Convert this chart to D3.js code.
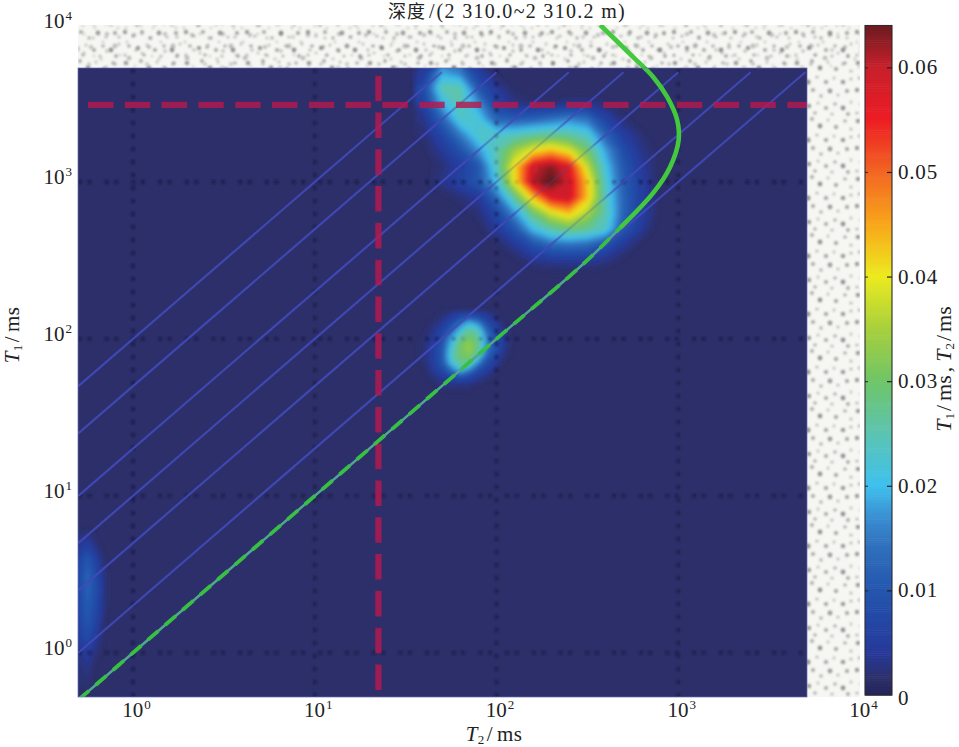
<!DOCTYPE html>
<html><head><meta charset="utf-8">
<script src="https://cdnjs.cloudflare.com/ajax/libs/d3/7.8.5/d3.min.js"></script>
<style>
html,body{margin:0;padding:0;background:#fff;overflow:hidden}
svg{display:block}
text{font-family:"Liberation Serif","Times New Roman",serif;fill:#222}
</style></head><body>
<svg id="c" width="959" height="747"></svg>
<script>
// ---- data ----
const decades = [1, 10, 100, 1000, 10000];
const colorTicks = [0, 0.01, 0.02, 0.03, 0.04, 0.05, 0.06];
const ratioLines = [1, 2, 5, 10, 20, 50, 100];
const t2Start = 0.5, t1End = 5000, t2Cutoff = 22.4, t1Cutoff = 3100;
const greenDiagonal = [[0.5,0.5],[1,1],[10,10],[100,100],[300,300],[479,510]];
const greenBend = [[479,510],[728,851],[902,1246],[1005,1852],[986,2483],[869,3480],[728,4665],[565,6250],[372,10000]];
const colorStops = [[0,"#25245a"],[0.0015,"#2c2f69"],[0.004,"#27399a"],[0.007,"#2347a5"],[0.01,"#2456ae"],[0.014,"#2f6fbc"],[0.017,"#3a8fd2"],[0.02,"#3fc1ee"],[0.025,"#5cc4b0"],[0.03,"#6fc566"],[0.035,"#a8d03c"],[0.04,"#ecea1e"],[0.045,"#f9a51a"],[0.05,"#f26522"],[0.055,"#ed1c24"],[0.06,"#c6202b"],[0.064,"#6a1b20"]];

// main blob: log10 T2 from 1.6 step 0.1, log10 T1 from 3.7 step -0.1
const mainBlob = [
[.004,.018,.015,.005,.001,0,0,0,0,0,0,0,0,0],
[.008,.025,.025,.010,.004,.001,0,0,0,0,0,0,0,0],
[.006,.019,.025,.017,.006,.003,.002,.002,.003,.003,.002,0,0,0],
[.003,.012,.023,.022,.012,.011,.012,.014,.016,.014,.006,.002,0,0],
[.002,.007,.015,.023,.023,.024,.026,.027,.026,.023,.012,.005,.002,0],
[.001,.004,.009,.017,.025,.034,.040,.044,.039,.030,.018,.008,.003,.001],
[.001,.002,.005,.010,.024,.041,.059,.063,.057,.037,.021,.010,.004,.001],
[.001,.003,.006,.010,.021,.040,.061,.065,.059,.043,.023,.011,.005,.001],
[0,.001,.002,.004,.013,.027,.043,.057,.059,.043,.024,.012,.005,.001],
[0,0,.001,.002,.007,.017,.029,.038,.043,.035,.025,.012,.005,.001],
[0,0,0,.001,.004,.010,.020,.026,.029,.027,.023,.010,.004,0],
[0,0,0,0,.001,.004,.009,.013,.014,.013,.009,.004,.001,0],
[0,0,0,0,0,.001,.003,.004,.004,.004,.003,.001,0,0],
[0,0,0,0,0,0,0,0,0,0,0,0,0,0]];
// small blob: log10 T2 from 1.6 step 0.05, log10 T1 from 2.15 step -0.05
const smallBlob = [
[0,.001,.002,.004,.006,.007,.006,.004,.002,0],
[.001,.002,.004,.008,.014,.020,.016,.008,.004,.001],
[.001,.003,.006,.012,.021,.027,.024,.012,.006,.002],
[.002,.004,.008,.018,.027,.031,.027,.015,.008,.003],
[.002,.005,.010,.021,.030,.034,.028,.015,.008,.003],
[.002,.005,.010,.023,.030,.032,.025,.012,.007,.002],
[.002,.005,.010,.021,.028,.027,.016,.008,.004,.001],
[.001,.004,.007,.013,.020,.015,.008,.005,.002,0],
[.001,.002,.004,.006,.008,.006,.004,.002,.001,0],
[0,.001,.002,.002,.002,.002,.001,0,0,0]];
// left-edge blob: log10 T2 from -0.3 step 0.05, log10 T1 from 0.8 step -0.1
const edgeBlob = [
[.001,.001,.001,0,0],
[.003,.005,.002,0,0],
[.006,.010,.005,.001,0],
[.007,.012,.007,.002,0],
[.007,.012,.008,.002,0],
[.007,.011,.007,.002,0],
[.006,.010,.006,.001,0],
[.005,.008,.004,.001,0],
[.003,.005,.002,.001,0],
[.002,.003,.001,0,0],
[.002,.002,0,0,0],
[0,0,0,0,0]];
const blobGrids = [[mainBlob,1.6,0.1,3.7,0.1],[smallBlob,1.6,0.05,2.15,0.05],[edgeBlob,-0.3,0.05,0.8,0.1]];
// texture dots of the stippled backdrop
const stippleDots = [[4,5,2.3,.6],[11,12,1.7,.4],[19,3,1.9,.5],[27,10,2.4,.65],[35,4,1.5,.35],[43,11,2,.55],[52,5,1.8,.45],[58,13,1.6,.4],
[6,20,1.9,.5],[15,24,2.5,.65],[24,19,1.6,.4],[33,24,2.1,.55],[41,20,1.5,.35],[50,24,2.3,.6],[58,21,1.6,.4],
[3,32,2.2,.6],[11,36,1.6,.4],[20,32,2,.5],[28,38,1.7,.45],[37,33,2.4,.6],[45,37,1.5,.4],[54,33,2,.55],
[7,46,1.8,.5],[16,48,2.2,.6],[25,45,1.5,.35],[33,50,2,.5],[42,46,1.8,.45],[50,50,2.4,.65],[58,44,1.5,.35],
[3,55,1.6,.4],[22,55,1.8,.45],[39,56,1.6,.4],[55,56,1.9,.5]];

// ---- scales ----
const x = d3.scaleLog().domain([0.5, 10000]).range([78.3, 860]);
const y = d3.scaleLog().domain([0.5, 10000]).range([700, 25]);
const heat = {l:78, r:807, t:68, b:697};
const cbar = {l:865, r:892, t:25.5, b:695};
const cScale = d3.scaleLinear().domain(colorStops.map(d=>d[0])).range(colorStops.map(d=>d[1])).interpolate(d3.interpolateRgb);
const cY = d3.scaleLinear().domain([0,0.064]).range([cbar.b,cbar.t]);

const svg = d3.select("#c");
const defs = svg.append("defs");
const blurF = (id,s)=>defs.append("filter").attr("id",id).attr("x","-5%").attr("y","-5%").attr("width","110%").attr("height","110%").append("feGaussianBlur").attr("stdDeviation",s);
blurF("b3",2); blurF("b1",1.25); blurF("b05",0.6); blurF("b07",0.8);
defs.append("clipPath").attr("id","heatClip").append("rect").attr("x",heat.l).attr("y",heat.t).attr("width",heat.r-heat.l).attr("height",heat.b-heat.t);
defs.append("clipPath").attr("id","plotClip").append("rect").attr("x",heat.l).attr("y",25).attr("width",782).attr("height",heat.b-25);
const makePat = (id,w,h,tf)=>{
  const p = defs.append("pattern").attr("id",id).attr("patternUnits","userSpaceOnUse").attr("width",w).attr("height",h).attr("patternTransform",tf);
  p.selectAll("circle").data(stippleDots).join("circle")
    .attr("cx",d=>d[0]).attr("cy",d=>d[1]).attr("r",d=>d[2]).attr("fill","#444").attr("opacity",d=>d[3]*.85);
};
makePat("stip",61,58,"translate(0,0)");
makePat("stip2",61,58,"translate(23,31) rotate(90)");

// stippled backdrop
const back = svg.append("g").attr("clip-path","url(#plotClip)");
back.append("rect").attr("x",heat.l).attr("y",25).attr("width",782).attr("height",heat.b-25).attr("fill","#f6f6f3");
back.append("rect").attr("x",heat.l).attr("y",25).attr("width",782).attr("height",heat.b-25).attr("fill","url(#stip)").attr("filter","url(#b1)");
back.append("rect").attr("x",heat.l).attr("y",25).attr("width",782).attr("height",43).attr("fill","url(#stip2)").attr("opacity",.55).attr("filter","url(#b1)");

// heat map
const hg = svg.append("g").attr("clip-path","url(#heatClip)");
hg.append("rect").attr("x",heat.l).attr("y",heat.t).attr("width",heat.r-heat.l).attr("height",heat.b-heat.t).attr("fill","#2c2f69");
const levels = d3.range(0.0016,0.0652,0.0008);
const blobs = hg.append("g").attr("filter","url(#b3)");
// mask fades the thin overlays where the heat map is strong
const mask = defs.append("mask").attr("id","fade").attr("maskUnits","userSpaceOnUse").attr("x",0).attr("y",0).attr("width",959).attr("height",747);
mask.append("rect").attr("width",959).attr("height",747).attr("fill","#fff");
const maskG = mask.append("g").attr("filter","url(#b3)");
const fadeShade = d3.scaleLinear().domain([0.008,0.028]).range(["#fff","#3c3c3c"]).clamp(true);
blobGrids.forEach(([grid,x0,dx,y0,dy])=>{
  const n = grid[0].length, m = grid.length;
  const cs = d3.contours().size([n,m]).thresholds(levels)(grid.flat());
  const path = d3.geoPath(d3.geoTransform({point(a,b){
    this.stream.point(x(Math.pow(10,x0+(a-0.5)*dx)), y(Math.pow(10,y0-(b-0.5)*dy)));
  }}));
  blobs.selectAll(null).data(cs).join("path").attr("d",path).attr("fill",d=>cScale(d.value+0.0004));
  maskG.selectAll(null).data(cs.filter(d=>d.value>0.008)).join("path").attr("d",path).attr("fill",d=>fadeShade(d.value));
});

// dotted grid
const gridAll = svg.append("g").attr("clip-path","url(#heatClip)").append("g").attr("mask","url(#fade)").attr("fill","none").attr("stroke","#14153a").attr("stroke-width",3.4).attr("opacity",.6).attr("filter","url(#b07)");
gridAll.selectAll(null).data(decades.slice(0,4)).join("line").attr("stroke-dasharray","4 9").attr("x1",d=>x(d)).attr("x2",d=>x(d)).attr("y1",heat.b).attr("y2",heat.t);
gridAll.selectAll(null).data(decades.slice(0,4)).join("line").attr("stroke-dasharray","4 5.5 4 13.2").attr("y1",d=>y(d)).attr("y2",d=>y(d)).attr("x1",heat.l).attr("x2",heat.r);

// constant-ratio lines
const lineGen = d3.line().x(d=>x(d[0])).y(d=>y(d[1]));
const lg = svg.append("g").attr("clip-path","url(#heatClip)").append("g").attr("mask","url(#fade)").attr("filter","url(#b05)");
lg.selectAll(null).data(ratioLines).join("path")
  .attr("d",r=>lineGen([[t2Start,t2Start*r],[t1End/r,t1End]]))
  .attr("fill","none").attr("stroke","#4049b6").attr("stroke-width",2.2).attr("opacity",.95);

// cutoffs
const cut = svg.append("g").attr("clip-path","url(#heatClip)").attr("stroke","#b3164f").attr("stroke-width",6.4).attr("stroke-opacity",.82).attr("stroke-dasharray","25.5 11.3").attr("filter","url(#b05)");
cut.append("line").attr("x1",88).attr("x2",heat.r+10).attr("y1",y(t1Cutoff)).attr("y2",y(t1Cutoff));
cut.append("line").attr("x1",x(t2Cutoff)).attr("x2",x(t2Cutoff)).attr("y1",690).attr("y2",72);

// green curve
const curveGen = lineGen.curve(d3.curveCatmullRom.alpha(0.5));
const gr = svg.append("g").attr("clip-path","url(#plotClip)").attr("fill","none").attr("filter","url(#b05)");
gr.append("path").attr("d",curveGen(greenDiagonal)).attr("stroke","#4fa98a").attr("stroke-width",2.4);
gr.append("path").attr("d",curveGen(greenDiagonal)).attr("stroke","#37c043").attr("stroke-width",3.8).attr("stroke-dasharray","14 9");
gr.append("path").attr("d",curveGen(greenBend)).attr("stroke","#43c93d").attr("stroke-width",4.6);

// frame of the heat map
svg.append("rect").attr("x",heat.l).attr("y",heat.t).attr("width",heat.r-heat.l).attr("height",heat.b-heat.t).attr("fill","none").attr("stroke","#6a6db5").attr("stroke-width",1).attr("opacity",.7);

// axes
function power(sel){
  sel.each(function(d){
    const t = d3.select(this).text(null);
    t.append("tspan").text("10");
    t.append("tspan").attr("dy",-8).attr("dx",1).attr("font-size",13).text(Math.round(Math.log10(d)));
  });
}
const ax = svg.append("g").attr("transform",`translate(0,${heat.b})`).call(d3.axisBottom(x).tickValues(decades).tickSize(6).tickPadding(14).tickFormat(String));
ax.select(".domain").remove();
ax.selectAll("line").attr("stroke","#14153a").attr("stroke-width",3).attr("y1",-7).attr("y2",0).attr("opacity",d=>d<10000?.8:0).attr("filter","url(#b05)");
ax.selectAll("text").attr("font-size",21).attr("dx",3).attr("dy",0).call(power);
const ay = svg.append("g").attr("transform",`translate(${heat.l},0)`).call(d3.axisLeft(y).tickValues(decades).tickSize(6).tickPadding(6).tickFormat(String));
ay.select(".domain").remove();
ay.selectAll("line").attr("stroke","#14153a").attr("stroke-width",3).attr("x1",0).attr("x2",7).attr("opacity",d=>d<10000?.8:0).attr("filter","url(#b05)");
ay.selectAll("text").attr("font-size",21).attr("x",-6).attr("dy",2).call(power);

// axis titles
function labelled(g, sub){
  g.append("tspan").attr("font-style","italic").text("T");
  g.append("tspan").attr("font-size",13).attr("dy",3).text(sub);
  g.append("tspan").attr("dy",-3).attr("dx",2).text("/");
  g.append("tspan").attr("dx",4).text("ms");
}
labelled(svg.append("text").attr("x",494).attr("y",741).attr("text-anchor","middle").attr("font-size",21).attr("letter-spacing",.4),"2");
labelled(svg.append("text").attr("transform","translate(19,335) rotate(-90)").attr("text-anchor","middle").attr("font-size",21).attr("letter-spacing",.4),"1");
const cLabel = svg.append("text").attr("transform","translate(951,369) rotate(-90)").attr("text-anchor","middle").attr("font-size",22);
labelled(cLabel,"1");
cLabel.append("tspan").attr("dx",3).text(",");
cLabel.append("tspan").attr("dx",5).attr("font-style","italic").text("T");
cLabel.append("tspan").attr("font-size",13).attr("dy",3).text("2");
cLabel.append("tspan").attr("dy",-3).attr("dx",2).text("/");
cLabel.append("tspan").attr("dx",3).text("ms");

// title
const title = svg.append("text").attr("x",507).attr("y",18).attr("text-anchor","middle").attr("font-size",20);
title.append("tspan").attr("font-family","Noto Sans CJK SC").attr("font-size",18).attr("letter-spacing",1).text("深度");
title.append("tspan").attr("dx",3).text("/");
title.append("tspan").attr("dx",2).attr("letter-spacing",1.3).text("(2 310.0~2 310.2 m)");

// colour bar
const cg = svg.append("g");
cg.selectAll(null).data(d3.range(0,0.064,0.0002)).join("rect")
  .attr("x",cbar.l).attr("width",cbar.r-cbar.l).attr("y",d=>cY(d+0.0002)).attr("height",d=>cY(d)-cY(d+0.0002)+0.6).attr("fill",d=>cScale(d));
cg.append("rect").attr("x",cbar.l).attr("y",cbar.t).attr("width",cbar.r-cbar.l).attr("height",cbar.b-cbar.t).attr("fill","none").attr("stroke","#2b2b2b").attr("stroke-width",1.1);
const caxis = svg.append("g").attr("transform",`translate(${cbar.r},0)`).call(d3.axisLeft(cY).tickValues(colorTicks).tickSize(5).tickFormat(d=>""));
caxis.select(".domain").remove();
caxis.selectAll("line").attr("stroke","#222").attr("stroke-width",1.2).attr("opacity",d=>d===0?0:1);
const caxisL = svg.append("g").attr("transform",`translate(${cbar.l},0)`).call(d3.axisRight(cY).tickValues(colorTicks).tickSize(3).tickFormat(d=>""));
caxisL.select(".domain").remove();
caxisL.selectAll("line").attr("stroke","#222").attr("stroke-width",1.2).attr("opacity",d=>d===0?0:.8);
svg.append("g").selectAll("text").data(colorTicks).join("text")
  .attr("x",898).attr("y",d=>cY(d)+(d===0?10:7)).attr("font-size",21).attr("letter-spacing",.8).text(d=>d===0?"0":d3.format(".2f")(d));
</script>
</body></html>
